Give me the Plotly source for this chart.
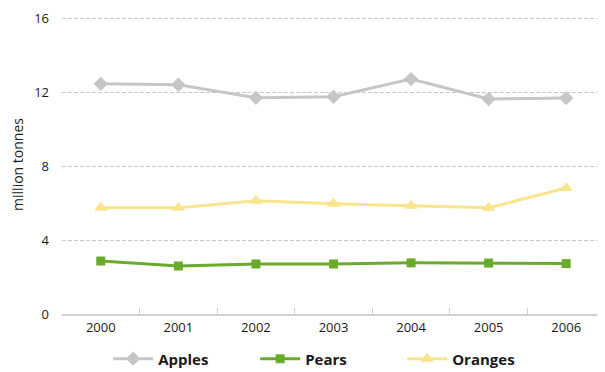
import plotly.graph_objects as go

years = ["2000", "2001", "2002", "2003", "2004", "2005", "2006"]
apples = [12.47, 12.42, 11.71, 11.77, 12.73, 11.65, 11.70]
pears = [2.87, 2.60, 2.71, 2.71, 2.77, 2.76, 2.73]
oranges = [5.75, 5.75, 6.13, 5.97, 5.86, 5.75, 6.83]
y_ticks = [0, 4, 8, 12, 16]

fig = go.Figure()
fig.add_trace(go.Scatter(x=years, y=apples, name="Apples", mode="lines+markers",
                         line=dict(color="#c6c6c6", width=3),
                         marker=dict(symbol="diamond", size=11, color="#c6c6c6")))
fig.add_trace(go.Scatter(x=years, y=pears, name="Pears", mode="lines+markers",
                         line=dict(color="#6aab2e", width=3),
                         marker=dict(symbol="square", size=9, color="#6aab2e")))
fig.add_trace(go.Scatter(x=years, y=oranges, name="Oranges", mode="lines+markers",
                         line=dict(color="#f9e68c", width=3),
                         marker=dict(symbol="triangle-up", size=12, color="#f9e68c")))

fig.update_layout(
    width=597, height=364,
    margin=dict(l=54, r=0, t=7, b=58, autoexpand=False),
    paper_bgcolor="white", plot_bgcolor="white",
    font=dict(family="Open Sans", size=13, color="#1a1a1a"),
    showlegend=True,
    legend=dict(orientation="h", x=0.085, xanchor="left", y=-0.095, yanchor="top",
                font=dict(size=15, family="Open Sans", weight="bold"),
                itemwidth=40, tracegroupgap=0, entrywidth=92),
    xaxis=dict(type="category", showgrid=False, showline=True, linecolor="#d0d0d0",
               linewidth=2, ticks="inside", tickson="boundaries", ticklen=6,
               tickcolor="#d0d0d0", range=[-0.5, 6.5], tickfont=dict(size=13)),
    yaxis=dict(range=[0, 16.2], tickvals=y_ticks, showgrid=True, gridcolor="#c8c8c8",
               griddash="4px,2px", gridwidth=1, zeroline=False, showline=False,
               ticks="", ticklabelstandoff=12,
               title=dict(text="million tonnes", font=dict(size=14), standoff=12),
               tickfont=dict(size=13)),
)

fig.write_html("out.html")
